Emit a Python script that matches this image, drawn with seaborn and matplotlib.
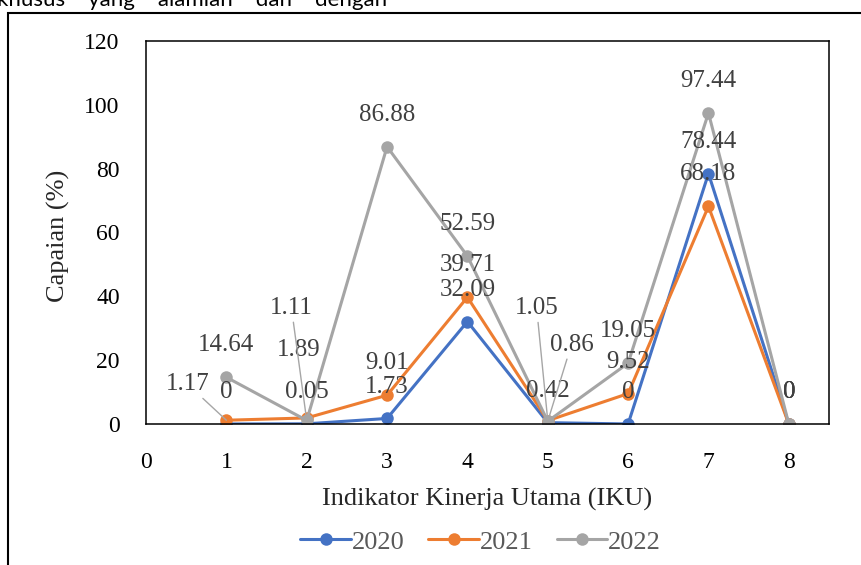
import pandas as pd
import matplotlib.pyplot as plt
import seaborn as sns
from matplotlib.patches import Rectangle

# data
IKU = [1, 2, 3, 4, 5, 6, 7, 8]
YEARS = ["2020", "2021", "2022"]
CAPAIAN_2020 = [0, 0.05, 1.73, 32.09, 0.42, 0, 78.44, 0]
CAPAIAN_2021 = [1.17, 1.89, 9.01, 39.71, 1.05, 9.52, 68.18, 0]
CAPAIAN_2022 = [14.64, 1.11, 86.88, 52.59, 0.86, 19.05, 97.44, 0]
X_TICKS = [0, 1, 2, 3, 4, 5, 6, 7, 8]
Y_TICKS = [0, 20, 40, 60, 80, 100, 120]
COLORS = ["#4472C4", "#ED7D31", "#A5A5A5"]

# label offsets in points (Excel labels sit above the point, a few were dragged)
DEFAULT_OFFSET = (0, 23)
LABEL_OFFSETS = {
    ("2021", 1): ((-28, 26), True),
    ("2021", 2): ((-6, 49), False),
    ("2022", 2): ((-11, 81), True),
    ("2021", 5): ((-8, 81), True),
    ("2022", 5): ((17, 55), True),
}

df = pd.DataFrame({
    "IKU": IKU * 3,
    "Capaian": CAPAIAN_2020 + CAPAIAN_2021 + CAPAIAN_2022,
    "Tahun": [y for y in YEARS for _ in IKU],
})

sns.set_style("white")
plt.rcParams["font.family"] = ["Liberation Serif", "DejaVu Serif"]

fig = plt.figure(figsize=(8.62, 5.65), dpi=100)
ax = fig.add_axes([0.1694, 0.2496, 0.7923, 0.6779])

sns.lineplot(data=df, x="IKU", y="Capaian", hue="Tahun", palette=COLORS,
             marker="o", markersize=9, markeredgewidth=0, linewidth=2.2,
             legend=False, ax=ax)

ax.set_xlim(0, 8.5)
ax.set_ylim(0, 120)
ax.set_xticks(X_TICKS)
ax.set_yticks(Y_TICKS)
ax.tick_params(axis="both", length=0, labelsize=17, colors="black")
ax.tick_params(axis="x", pad=20)
ax.tick_params(axis="y", pad=19)
for sp in ax.spines.values():
    sp.set_visible(True)
    sp.set_color("black")
    sp.set_linewidth(1.1)

ax.set_xlabel("Indikator Kinerja Utama (IKU)", fontsize=19)
ax.set_ylabel("Capaian (%)", fontsize=19)
ax.xaxis.set_label_coords(0.5, -0.198)
ax.xaxis.label.set_va("center")
ax.yaxis.set_label_coords(-0.128, 0.49)
ax.yaxis.label.set_va("center")

leg = ax.legend(handles=ax.lines[:3], labels=YEARS, loc="center",
                bbox_to_anchor=(0.49, -0.308), ncol=3, frameon=False,
                fontsize=19, handlelength=1.9, handletextpad=0.05,
                columnspacing=0.9)
for t in leg.get_texts():
    t.set_color("#595959")

# data labels
for year, vals in zip(YEARS, [CAPAIAN_2020, CAPAIAN_2021, CAPAIAN_2022]):
    for x, v in zip(IKU, vals):
        offset, leader = LABEL_OFFSETS.get((year, x), (DEFAULT_OFFSET, False))
        kw = {}
        if leader:
            kw["arrowprops"] = dict(arrowstyle="-", color="#A6A6A6", lw=1.0,
                                    shrinkA=0, shrinkB=0)
        ax.annotate(f"{v:g}", xy=(x, v), xytext=offset, textcoords="offset points",
                    ha="center", va="center", fontsize=18, color="#404040",
                    annotation_clip=False, **kw)

# frame of the surrounding document figure and cut-off text above it
fig.patches.append(Rectangle((8 / 862, -0.05), 1.1, 1.027, transform=fig.transFigure,
                             fill=False, edgecolor="black", linewidth=1.5))
fig.text(-0.004, 0.99, "khusus    yang    alamian    dan    dengan", fontsize=16,
         family="Lato", va="baseline", ha="left", color="black")

fig.savefig("out.png", dpi=100)
